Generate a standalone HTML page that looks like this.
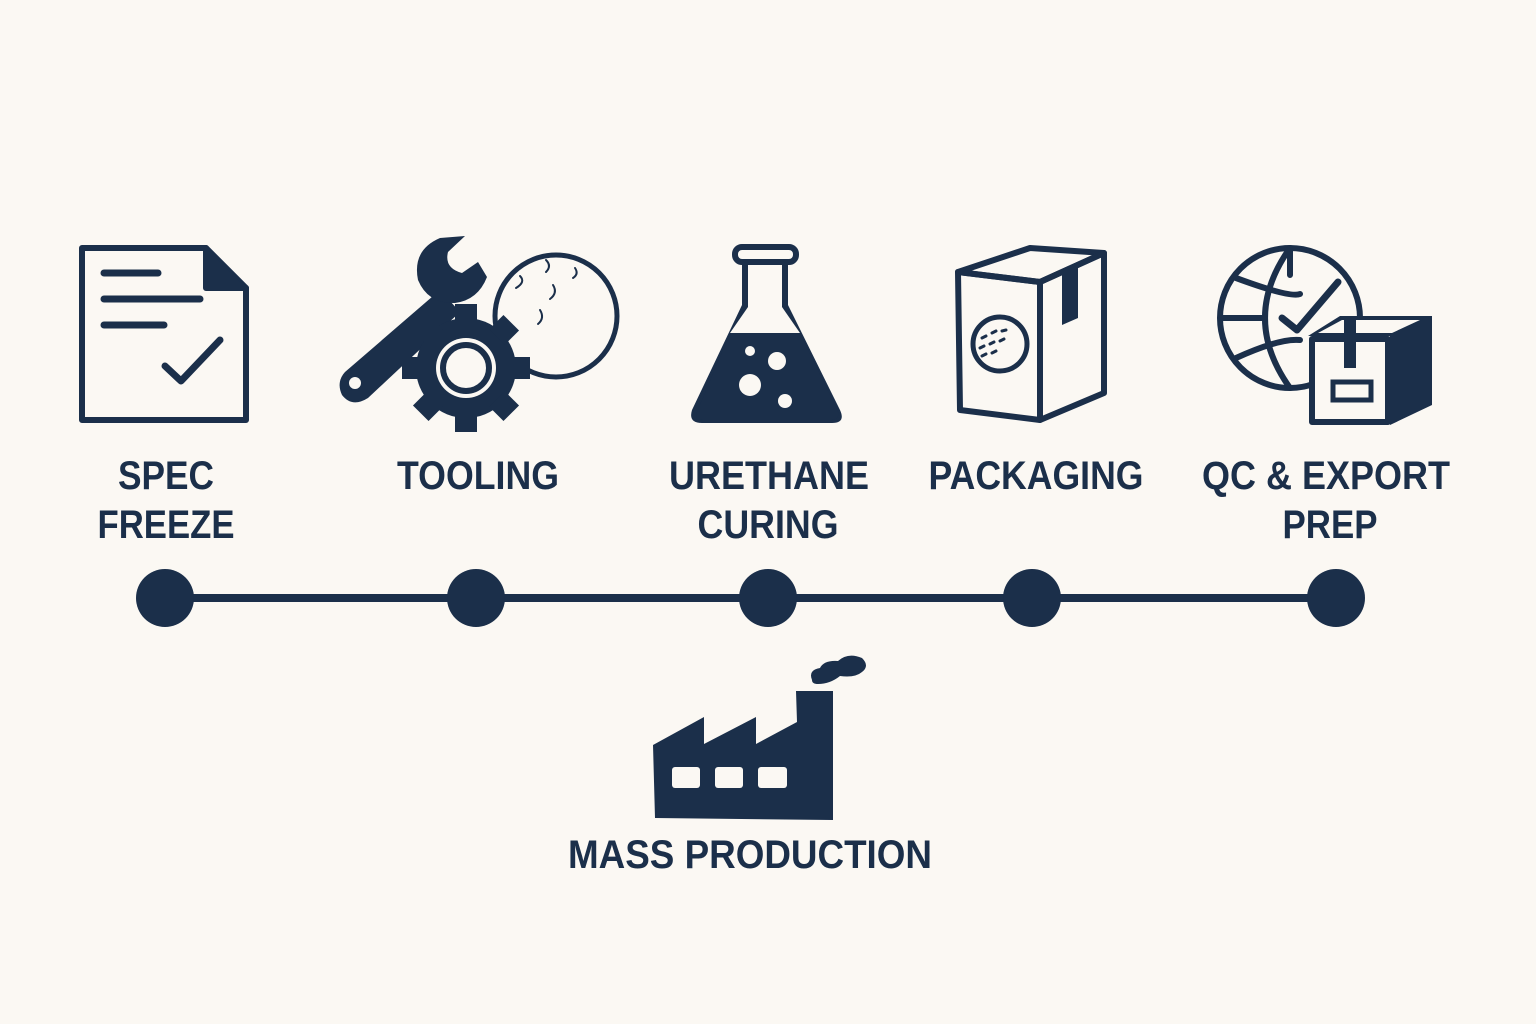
<!DOCTYPE html>
<html><head><meta charset="utf-8"><style>
html,body{margin:0;padding:0;background:#fbf8f3;}
svg{display:block}
text{font-family:"Liberation Sans",sans-serif;font-weight:bold;fill:#1b2f4a;}
</style></head><body>
<svg width="1536" height="1024" viewBox="0 0 1536 1024" xmlns="http://www.w3.org/2000/svg">
<rect width="1536" height="1024" fill="#fbf8f3"/>
<g fill="none" stroke="#1b2f4a" stroke-width="6" stroke-linejoin="round" stroke-linecap="round">
<!-- doc -->
<path d="M82 248 H206 L246 288 V420 H82 Z"/>
<path d="M206 248 V288 H246" fill="#1b2f4a"/>
<path d="M104 273 H158 M104 299 H200 M104 325 H164" stroke-width="7"/>
<path d="M165 366 L181 381 L220 340" stroke-width="7"/>
<!-- ball -->
<circle cx="556" cy="316" r="61" stroke-width="5"/>
<path d="M546 260 q6 6 0 12 M520 276 q6 6 -4 12 M553 285 q5 8 -3 14 M540 310 q5 8 -2 14 M575 268 q4 6 -2 10" stroke-width="2"/>
<!-- box -->
<path d="M958 272 L1030 248 L1104 253 L1040 282 Z"/>
<path d="M958 272 L1040 282 L1040 420 L960 410 Z"/>
<path d="M1040 282 L1104 253 L1104 393 L1040 420"/>
<circle cx="1000" cy="344" r="27" stroke-width="5"/>
<path d="M982 338 l4 -2 M992 333 l4 -2 M1002 331 l4 -1 M980 348 l4 -2 M990 344 l4 -2 M1000 341 l4 -2 M982 356 l4 -2 M992 353 l4 -2" stroke-width="3"/>
<!-- globe -->
<circle cx="1290" cy="318" r="70"/>
<path d="M1290 248 Q1240 318 1290 388 M1290 248 V275 M1222 318 H1265 M1236 278 Q1290 298 1300 294 M1236 358 Q1280 338 1300 340"/>
<path d="M1282 318 L1297 330 L1338 282" stroke-width="7"/>
<!-- flask -->
<rect x="735" y="247" width="61" height="15" rx="7"/>
</g>
<g fill="#1b2f4a">
<!-- tape on box -->
<path d="M1062 270 L1078 262 L1078 318 L1062 325 Z"/>
<!-- wrench -->
<path d="M345 372 L440 290 L460 312 L368 398 Q352 408 342 395 Q336 382 345 372 Z"/>
<circle cx="355" cy="383" r="6" fill="#fbf8f3"/>
<path d="M418 280 Q412 250 440 238 L465 236 L448 252 Q444 268 462 273 L478 262 L487 277 Q478 300 455 303 Q428 304 418 280 Z"/>
<!-- gear -->
<g transform="translate(466 368)">
<circle r="50"/>
<g>
<rect x="-11" y="-64" width="22" height="20" transform="rotate(0)"/>
<rect x="-11" y="-64" width="22" height="20" transform="rotate(45)"/>
<rect x="-11" y="-64" width="22" height="20" transform="rotate(90)"/>
<rect x="-11" y="-64" width="22" height="20" transform="rotate(135)"/>
<rect x="-11" y="-64" width="22" height="20" transform="rotate(180)"/>
<rect x="-11" y="-64" width="22" height="20" transform="rotate(225)"/>
<rect x="-11" y="-64" width="22" height="20" transform="rotate(270)"/>
<rect x="-11" y="-64" width="22" height="20" transform="rotate(315)"/>
</g>
<circle r="30" fill="#fbf8f3"/>
<circle r="23" fill="none" stroke="#1b2f4a" stroke-width="6"/>
</g>
<!-- flask -->
<path d="M742 262 V305 L692 410 Q688 423 702 423 H832 Q846 423 840 410 L788 305 V262 H782 V307 L800 333 H730 L748 307 V262 Z"/>
<path d="M730 333 H800 L838 412 Q840 420 830 420 H704 Q694 420 697 412 Z"/>
<circle cx="750" cy="351" r="5" fill="#fbf8f3"/><circle cx="777" cy="361" r="9" fill="#fbf8f3"/>
<circle cx="750" cy="385" r="11" fill="#fbf8f3"/><circle cx="785" cy="401" r="7" fill="#fbf8f3"/>
<!-- export box -->
<path d="M1308 336 L1340 316 L1432 316 L1432 405 L1390 425 L1390 336 Z"/>
<path d="M1312 339 H1388 V422 H1312 Z" fill="#fbf8f3" stroke="#1b2f4a" stroke-width="6" stroke-linejoin="round"/>
<path d="M1318 333 L1342 320 L1420 320 L1392 333 Z" fill="#fbf8f3"/>
<rect x="1344" y="320" width="12" height="48"/>
<rect x="1333" y="382" width="38" height="18" fill="none" stroke="#1b2f4a" stroke-width="5"/>
<!-- timeline -->
<rect x="165" y="594" width="1171" height="8"/>
<circle cx="165" cy="598" r="29"/><circle cx="476" cy="598" r="29"/><circle cx="768" cy="598" r="29"/><circle cx="1032" cy="598" r="29"/><circle cx="1336" cy="598" r="29"/>
<!-- factory -->
<path d="M653 745 L704 717 V744 L756 717 V744 L797 722 L796 691 H833 L833 820 L655 818 Z"/>
<rect x="672" y="767" width="28" height="21" rx="3" fill="#fbf8f3"/>
<rect x="715" y="767" width="28" height="21" rx="3" fill="#fbf8f3"/>
<rect x="758" y="767" width="29" height="21" rx="3" fill="#fbf8f3"/>
<path d="M812 680 Q808 670 820 668 Q824 660 838 661 Q848 652 862 658 Q870 666 862 672 Q855 678 840 676 Q830 684 818 684 Q812 684 812 680 Z"/>
</g>
<g font-size="40">
<text x="166" y="489" text-anchor="middle" textLength="96" lengthAdjust="spacingAndGlyphs">SPEC</text>
<text x="166" y="538" text-anchor="middle" textLength="137" lengthAdjust="spacingAndGlyphs">FREEZE</text>
<text x="478" y="489" text-anchor="middle" textLength="162" lengthAdjust="spacingAndGlyphs">TOOLING</text>
<text x="769" y="489" text-anchor="middle" textLength="200" lengthAdjust="spacingAndGlyphs">URETHANE</text>
<text x="768" y="538" text-anchor="middle" textLength="141" lengthAdjust="spacingAndGlyphs">CURING</text>
<text x="1036" y="489" text-anchor="middle" textLength="215" lengthAdjust="spacingAndGlyphs">PACKAGING</text>
<text x="1326" y="489" text-anchor="middle" textLength="248" lengthAdjust="spacingAndGlyphs">QC &amp; EXPORT</text>
<text x="1330" y="538" text-anchor="middle" textLength="95" lengthAdjust="spacingAndGlyphs">PREP</text>
<text x="750" y="868" text-anchor="middle" textLength="364" lengthAdjust="spacingAndGlyphs">MASS PRODUCTION</text>
</g>
</svg>
</body></html>
